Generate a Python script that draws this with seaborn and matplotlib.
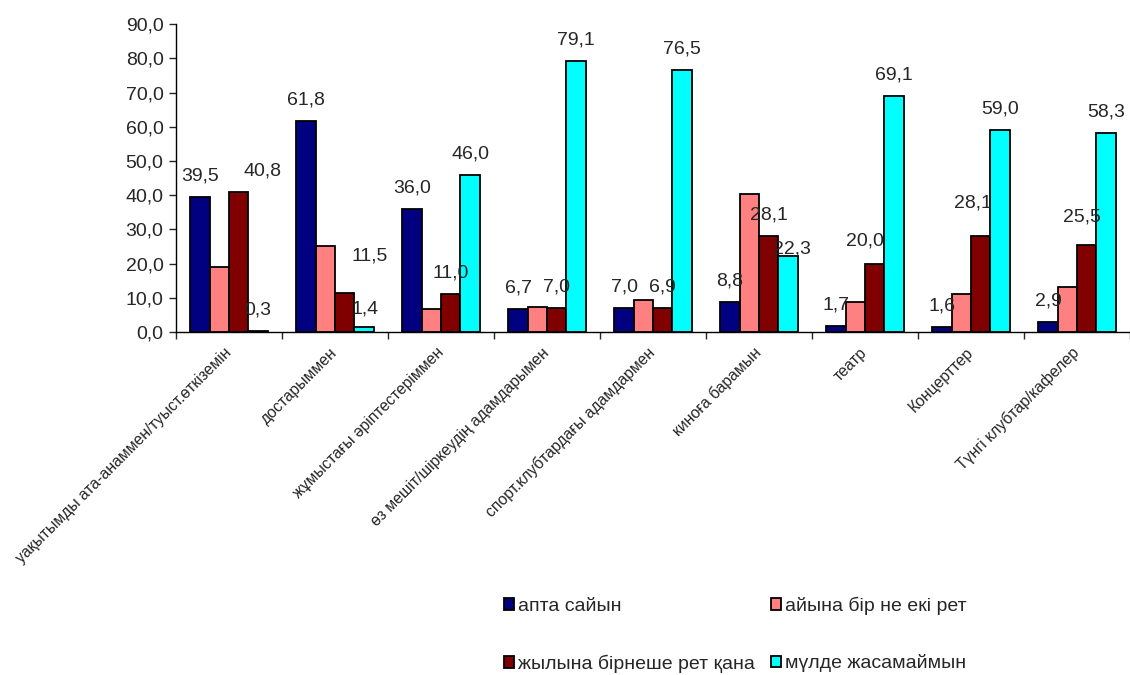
import matplotlib
matplotlib.use('Agg')
import matplotlib.pyplot as plt
from matplotlib.ticker import FuncFormatter
import seaborn as sns
import pandas as pd
import numpy as np

# 数据
categories = ['уақытымды ата-анаммен/туыст.өткіземін', 'достарыммен',
              'жұмыстағы әріптестеріммен', 'өз мешіт/шіркеудің адамдарымен',
              'спорт.клубтардағы адамдармен', 'киноға барамын', 'театр',
              'Концерттер', 'Түнгі клубтар/кафелер']
series = ['апта сайын', 'айына бір не екі рет', 'жылына бірнеше рет қана', 'мүлде жасамаймын']
weekly = [39.5, 61.8, 36.0, 6.7, 7.0, 8.8, 1.7, 1.6, 2.9]
monthly = [19.1, 25.1, 6.8, 7.3, 9.5, 40.4, 8.8, 11.0, 13.1]
yearly = [40.8, 11.5, 11.0, 7.0, 6.9, 28.1, 20.0, 28.1, 25.5]
never = [0.3, 1.4, 46.0, 79.1, 76.5, 22.3, 69.1, 59.0, 58.3]
colors = ['#000080', '#FF8080', '#800000', '#00FFFF']

# 哪些系列有数据标签
labeled_series = [0, 2, 3]
# 个别标签的位置微调 (series, category): (dx, dy) 像素
label_nudge = {(2, 0): (24, 0), (2, 1): (25, 16), (3, 1): (1, -3),
               (3, 5): (4, -14), (2, 6): (-10, 2), (2, 7): (-8, 12),
               (2, 8): (-5, 7)}

df = pd.DataFrame({
    'category': categories * 4,
    'series': [s for s in series for _ in categories],
    'value': weekly + monthly + yearly + never,
})

sns.set_style('white')
plt.rcParams['font.family'] = ['Liberation Sans', 'DejaVu Sans']

fig = plt.figure(figsize=(11.3, 6.75), dpi=100)
ax = fig.add_axes([0.1558, 0.508, 0.8442, 0.4563])

sns.barplot(ax=ax, data=df, x='category', y='value', hue='series', hue_order=series,
            palette=colors, saturation=1, width=0.73, edgecolor='black',
            linewidth=1.3, errorbar=None)

# 数据标签
for s_idx in labeled_series:
    for c_idx, rect in enumerate(ax.containers[s_idx]):
        h = rect.get_height()
        dx, dy = label_nudge.get((s_idx, c_idx), (0, 0))
        ax.annotate(f"{h:.1f}".replace('.', ','),
                    (rect.get_x() + rect.get_width() / 2, h),
                    xytext=(dx, 16.5 + dy), textcoords='offset pixels',
                    ha='center', va='baseline', fontsize=14)

# 坐标轴
ax.set_ylim(0, 90)
ax.set_xlim(-0.5, len(categories) - 0.5)
ax.yaxis.set_major_locator(plt.MultipleLocator(10))
ax.yaxis.set_major_formatter(FuncFormatter(lambda v, p: f"{v:.1f}".replace('.', ',')))
ax.tick_params(axis='y', which='major', left=True, length=5, width=1, labelsize=14, pad=4)
ax.set_xticks(np.arange(-0.5, len(categories), 1), minor=True)
ax.tick_params(axis='x', which='minor', bottom=True, length=5, width=1)
ax.tick_params(axis='x', which='major', length=0, labelsize=11.3, pad=13)
for lbl in ax.get_xticklabels():
    lbl.set_rotation(45)
    lbl.set_ha('right')
    lbl.set_va('center')
    lbl.set_rotation_mode('anchor')
ax.set_xlabel('')
ax.set_ylabel('')
for side in ['top', 'right']:
    ax.spines[side].set_visible(False)
for side in ['left', 'bottom']:
    ax.spines[side].set_color('black')
    ax.spines[side].set_linewidth(1)

# 图例
handles, labels = ax.get_legend_handles_labels()
ax.get_legend().remove()
order = [0, 2, 1, 3]
fig.legend([handles[i] for i in order], [labels[i] for i in order],
           loc='upper left', bbox_to_anchor=(0.437, 0.131), ncol=2, frameon=False,
           fontsize=14, handlelength=0.55, handleheight=0.55, handletextpad=0.2,
           labelspacing=2.05, columnspacing=0.8, borderpad=0)

plt.savefig('out.png', dpi=100)
